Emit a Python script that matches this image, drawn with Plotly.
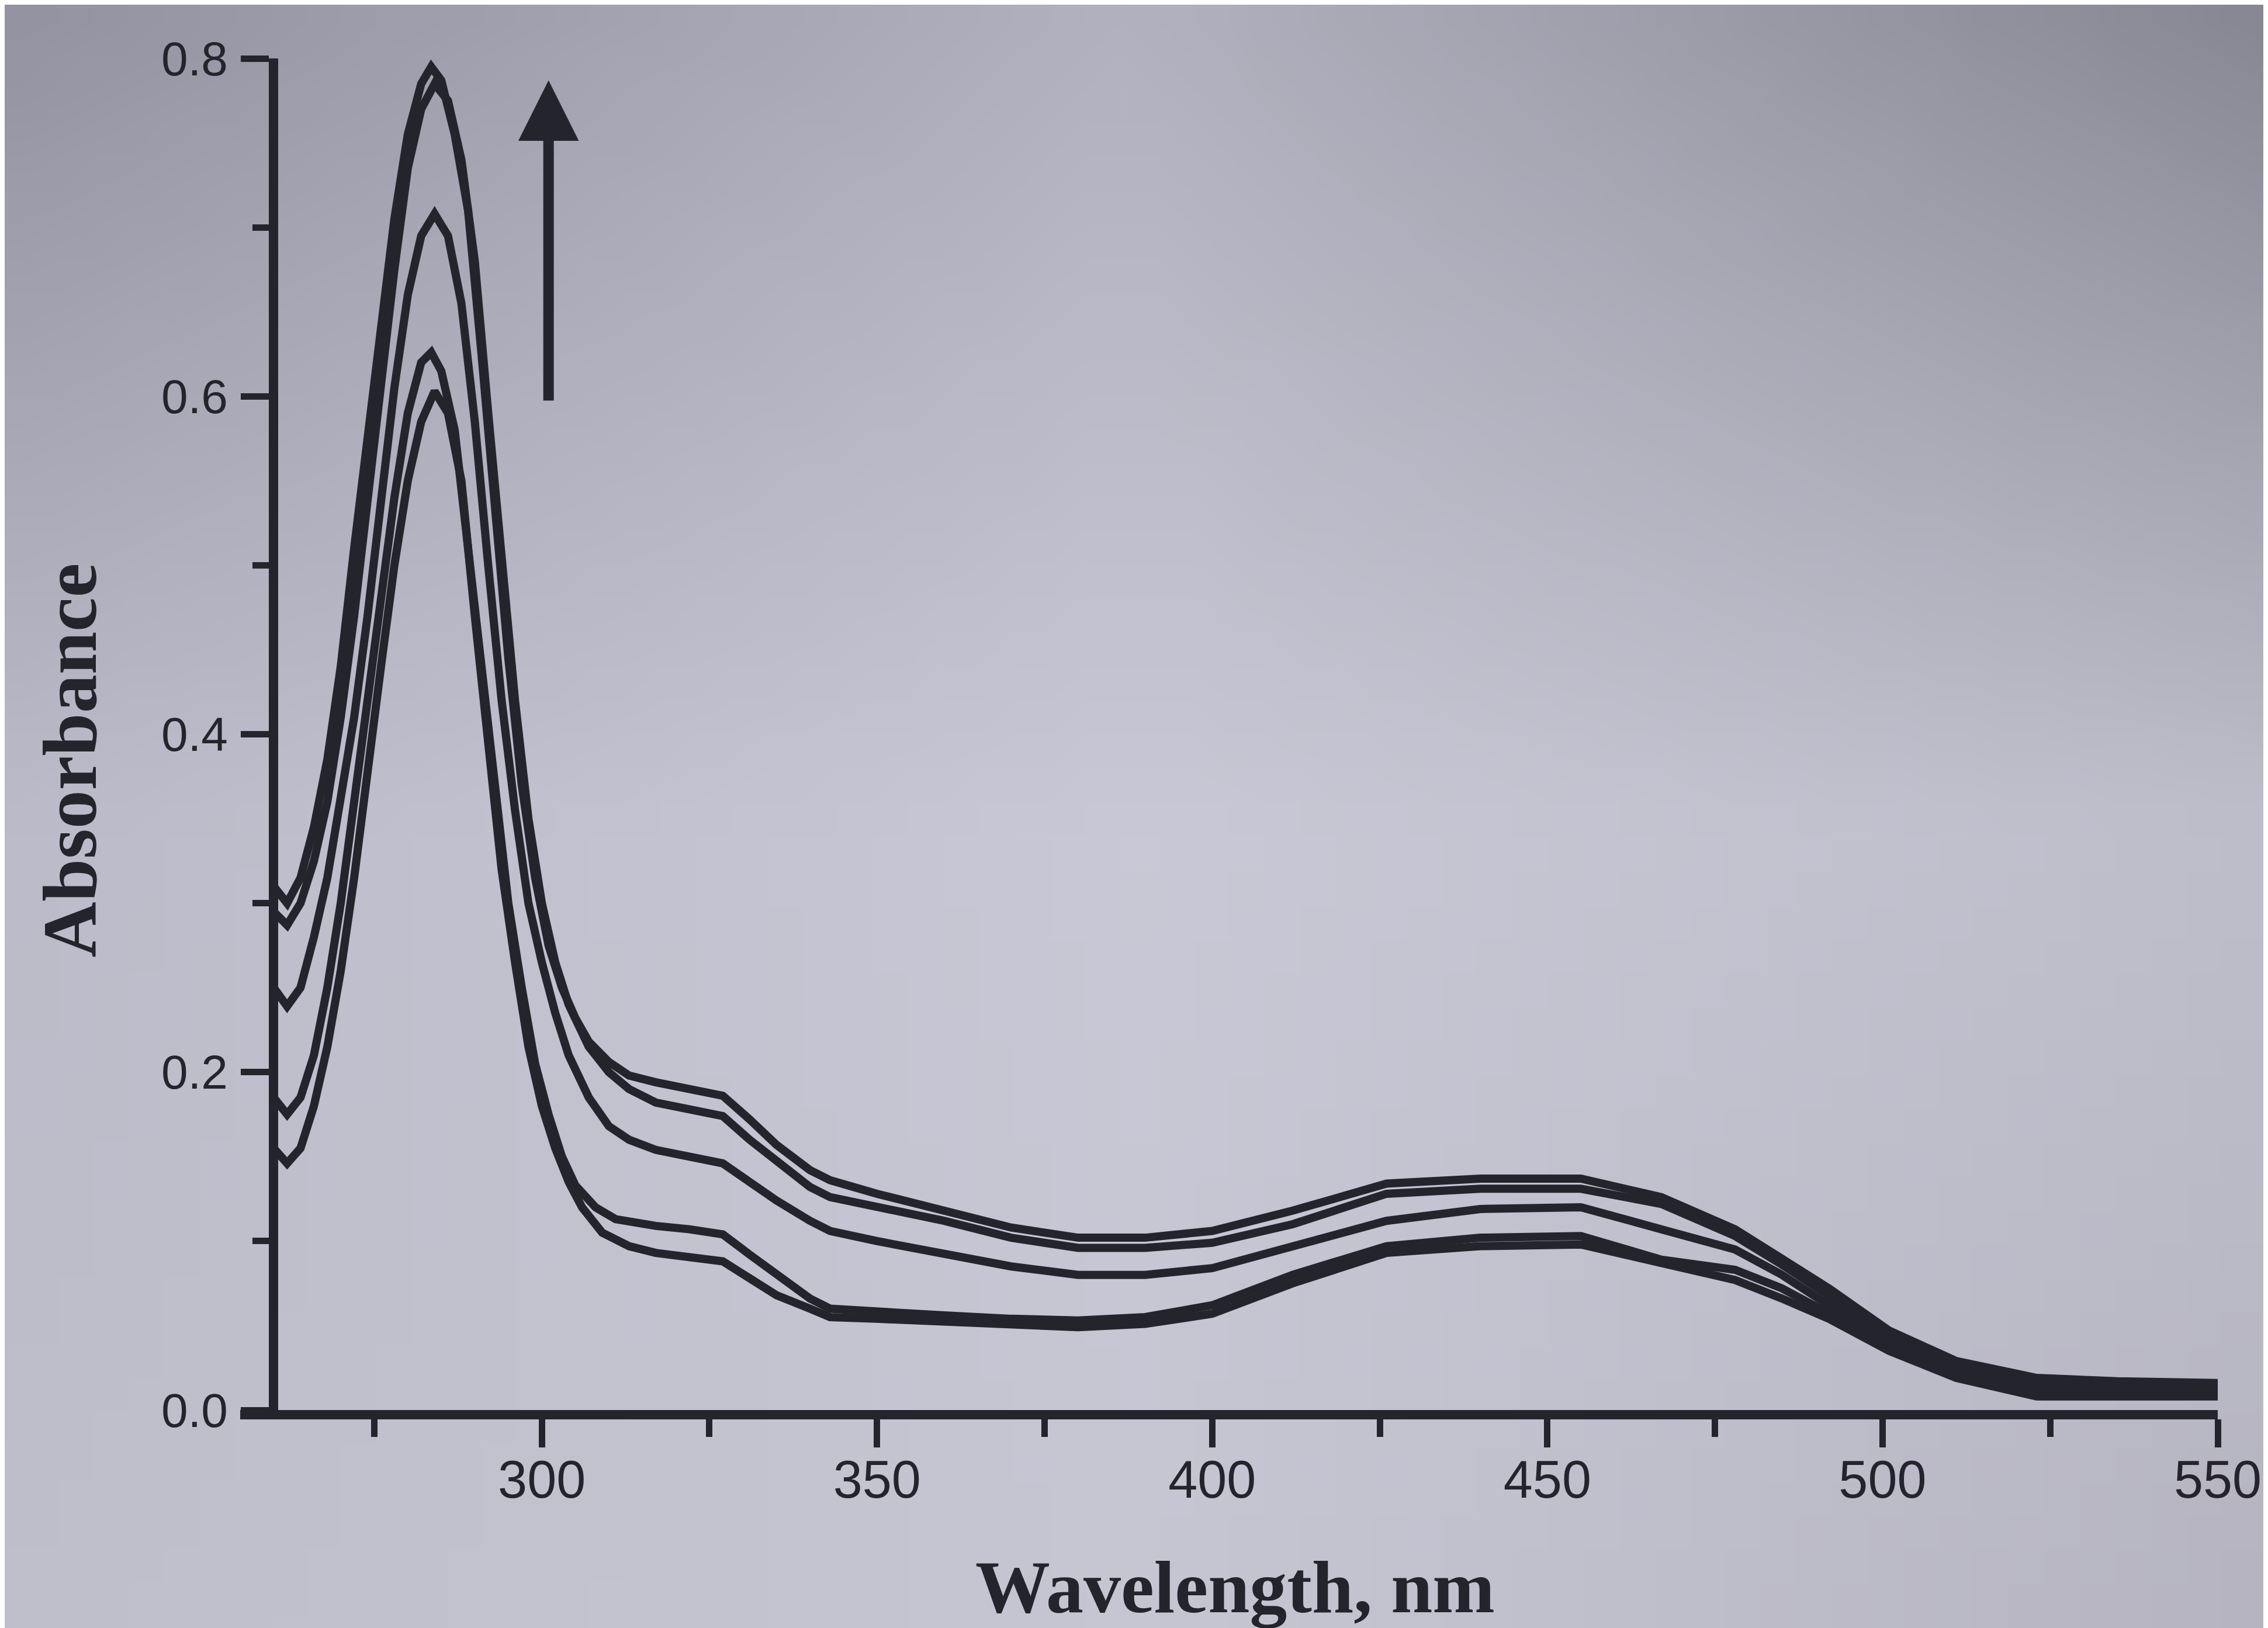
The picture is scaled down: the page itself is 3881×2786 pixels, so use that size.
import base64
import struct
import zlib

import plotly.graph_objects as go

# ---------------- data ----------------
wl_a = [260, 262, 264, 266, 268, 270, 272, 274, 276, 278, 280, 282, 283.5, 285, 287, 289, 291, 293, 295, 297, 299,
        301, 303, 305, 307, 310, 313, 317, 322, 327, 331, 335, 340, 343, 350, 360, 370, 380, 390, 400, 412, 426,
        440, 455, 467, 478, 485, 492, 501, 511, 523, 535, 550]
abs_a = [0.31, 0.30, 0.315, 0.345, 0.385, 0.44, 0.51, 0.575, 0.635, 0.705, 0.755, 0.785, 0.795, 0.787, 0.755, 0.71,
         0.625, 0.53, 0.445, 0.37, 0.315, 0.275, 0.25, 0.232, 0.218, 0.206, 0.198, 0.194, 0.19, 0.186, 0.172, 0.157,
         0.142, 0.136, 0.128, 0.118, 0.108, 0.102, 0.102, 0.106, 0.118, 0.134, 0.137, 0.137, 0.126, 0.107, 0.09,
         0.072, 0.047, 0.029, 0.019, 0.017, 0.016]

wl_b = [260, 262, 264, 266, 268, 270, 272, 274, 276, 278, 280, 282, 284, 286, 288, 290, 292, 294, 296, 298, 300,
        302, 304, 307, 310, 313, 317, 322, 327, 331, 335, 340, 343, 350, 360, 370, 380, 390, 400, 412, 426,
        440, 455, 467, 478, 485, 492, 501, 511, 523, 535, 550]
abs_b = [0.295, 0.287, 0.30, 0.325, 0.36, 0.41, 0.47, 0.54, 0.60, 0.675, 0.735, 0.77, 0.785, 0.775, 0.74, 0.68,
         0.59, 0.50, 0.42, 0.35, 0.30, 0.265, 0.24, 0.215, 0.20, 0.19, 0.182, 0.178, 0.174, 0.16, 0.147, 0.132,
         0.126, 0.12, 0.112, 0.102, 0.096, 0.096, 0.099, 0.11, 0.128, 0.131, 0.131, 0.122, 0.103, 0.086, 0.068,
         0.044, 0.026, 0.015, 0.014, 0.014]

wl_c = [260, 262, 264, 266, 268, 270, 272, 274, 276, 278, 280, 282, 284, 286, 288, 290, 292, 294, 296, 298, 300,
        302, 304, 307, 310, 313, 317, 322, 327, 331, 335, 340, 343, 350, 360, 370, 380, 390, 400, 412, 426,
        440, 455, 467, 478, 485, 492, 501, 511, 523, 535, 550]
abs_c = [0.25, 0.239, 0.25, 0.28, 0.315, 0.36, 0.41, 0.47, 0.54, 0.605, 0.66, 0.695, 0.708, 0.695, 0.655, 0.585,
         0.50, 0.42, 0.355, 0.30, 0.265, 0.235, 0.21, 0.185, 0.168, 0.16, 0.154, 0.15, 0.146, 0.135, 0.124, 0.112,
         0.106, 0.10, 0.093, 0.085, 0.08, 0.08, 0.084, 0.097, 0.112, 0.119, 0.12, 0.107, 0.095, 0.08, 0.062,
         0.041, 0.024, 0.012, 0.012, 0.012]

wl_d = [260, 262, 264, 266, 268, 270, 272, 274, 276, 278, 280, 282, 283.5, 285, 287, 289, 291, 293, 295, 297, 299,
        301, 303, 305, 308, 311, 317, 322, 327, 331, 335, 340, 343, 350, 360, 370, 380, 390, 400, 412, 426,
        440, 455, 467, 478, 485, 492, 501, 511, 523, 535, 550]
abs_d = [0.185, 0.175, 0.185, 0.21, 0.25, 0.30, 0.36, 0.42, 0.48, 0.54, 0.59, 0.62, 0.626, 0.615, 0.58, 0.51,
         0.43, 0.36, 0.30, 0.25, 0.205, 0.175, 0.15, 0.133, 0.12, 0.113, 0.109, 0.107, 0.104, 0.092, 0.08, 0.066,
         0.06, 0.058, 0.056, 0.054, 0.053, 0.055, 0.062, 0.08, 0.097, 0.102, 0.103, 0.089, 0.083, 0.072, 0.057,
         0.038, 0.021, 0.01, 0.01, 0.01]

wl_e = [260, 262, 264, 266, 268, 270, 272, 274, 276, 278, 280, 282, 284, 286, 288, 290, 292, 294, 296, 298, 300,
        302, 304, 306, 309, 313, 317, 322, 327, 331, 335, 340, 343, 350, 360, 370, 380, 390, 400, 412, 426,
        440, 455, 467, 478, 485, 492, 501, 511, 523, 535, 550]
abs_e = [0.155, 0.146, 0.155, 0.18, 0.215, 0.26, 0.315, 0.38, 0.44, 0.50, 0.55, 0.585, 0.603, 0.59, 0.55, 0.47,
         0.39, 0.32, 0.265, 0.215, 0.18, 0.155, 0.135, 0.12, 0.105, 0.097, 0.093, 0.091, 0.088, 0.078, 0.068, 0.06,
         0.055, 0.054, 0.052, 0.05, 0.049, 0.051, 0.057, 0.075, 0.093, 0.097, 0.098, 0.087, 0.077, 0.066, 0.054,
         0.035, 0.019, 0.008, 0.008, 0.008]

series = [(wl_a, abs_a), (wl_b, abs_b), (wl_c, abs_c), (wl_d, abs_d), (wl_e, abs_e)]

x_ticks = [300, 350, 400, 450, 500, 550]
x_tick_labels = ["300", "350", "400", "450", "500", "550"]
x_minor_ticks = [275, 325, 375, 425, 475, 525]
y_ticks = [0.0, 0.2, 0.4, 0.6, 0.8]
y_tick_labels = ["0.0", "0.2", "0.4", "0.6", "0.8"]
y_minor_ticks = [0.1, 0.3, 0.5, 0.7]

arrow_wl = 301
arrow_from = 0.597
arrow_to = 0.787

x_title = "Wavelength, nm"
y_title = "Absorbance"

# ---------------- styling ----------------
W, H = 3881, 2786
ML, MR, MT, MB = 403, 94, 92, 381
INK = "#24242c"
BG = "#c2c2cf"

# photographed-paper shading: 3x3 grid of corner/edge colours, smoothly interpolated
shade_grid = [
    [(0x93, 0x93, 0xa1), (0xb1, 0xb1, 0xbf), (0x88, 0x88, 0x94)],
    [(0xbb, 0xbb, 0xc9), (0xc8, 0xc8, 0xd6), (0xbe, 0xbe, 0xcb)],
    [(0xbf, 0xbf, 0xcb), (0xc6, 0xc6, 0xd3), (0xb6, 0xb4, 0xc1)],
]


def shade_png(grid, w=64, h=48):
    rows = []
    for j in range(h):
        v = j / (h - 1) * 2
        j0 = min(int(v), 1)
        fv = v - j0
        row = bytearray([0])
        for i in range(w):
            u = i / (w - 1) * 2
            i0 = min(int(u), 1)
            fu = u - i0
            px = []
            for c in range(3):
                a = grid[j0][i0][c] * (1 - fu) + grid[j0][i0 + 1][c] * fu
                b = grid[j0 + 1][i0][c] * (1 - fu) + grid[j0 + 1][i0 + 1][c] * fu
                px.append(int(round(a * (1 - fv) + b * fv)))
            row.extend(px)
        rows.append(bytes(row))
    raw = b"".join(rows)

    def chunk(tag, data):
        c = struct.pack(">I", len(data)) + tag + data
        return c + struct.pack(">I", zlib.crc32(tag + data) & 0xFFFFFFFF)

    png = b"\x89PNG\r\n\x1a\n"
    png += chunk(b"IHDR", struct.pack(">IIBBBBB", w, h, 8, 2, 0, 0, 0))
    png += chunk(b"IDAT", zlib.compress(raw, 9))
    png += chunk(b"IEND", b"")
    return "data:image/png;base64," + base64.b64encode(png).decode()


# ---------------- figure ----------------
fig = go.Figure()
for wl, ab in series:
    fig.add_trace(go.Scatter(x=wl, y=ab, mode="lines",
                             line=dict(color=INK, width=14), showlegend=False,
                             hoverinfo="skip"))

x0, x1 = 255, 550
y_axis_at = 260
pw, ph = W - ML - MR, H - MT - MB

fig.update_layout(
    width=W, height=H,
    paper_bgcolor=BG, plot_bgcolor="rgba(0,0,0,0)",
    margin=dict(l=ML, r=MR, t=MT, b=MB),
    showlegend=False,
    images=[dict(source=shade_png(shade_grid), xref="paper", yref="paper",
                 x=-ML / pw, y=1 + MT / ph, sizex=W / pw, sizey=H / ph,
                 xanchor="left", yanchor="top", sizing="stretch", layer="below")],
    xaxis=dict(
        range=[x0, x1], showgrid=False, zeroline=False,
        showline=True, linecolor=INK, linewidth=16,
        tickmode="array", tickvals=x_ticks, ticktext=x_tick_labels,
        ticks="outside", ticklen=48, tickwidth=11, tickcolor=INK,
        tickfont=dict(family="Liberation Sans, Arial, sans-serif", size=90, color=INK),
        minor=dict(tickmode="array", tickvals=x_minor_ticks,
                   ticks="outside", ticklen=30, tickwidth=11, tickcolor=INK),
        ticklabelstandoff=-22,
    ),
    yaxis=dict(
        range=[0, 0.8], showgrid=False, zeroline=False,
        anchor="free", position=(y_axis_at - x0) / (x1 - x0),
        showline=True, linecolor=INK, linewidth=16,
        tickmode="array", tickvals=y_ticks, ticktext=y_tick_labels,
        ticks="outside", ticklen=48, tickwidth=11, tickcolor=INK,
        tickfont=dict(family="Liberation Sans, Arial, sans-serif", size=82, color=INK),
        minor=dict(tickmode="array", tickvals=y_minor_ticks,
                   ticks="outside", ticklen=28, tickwidth=11, tickcolor=INK),
        ticklabelstandoff=6,
    ),
)

fig.add_annotation(x=arrow_wl, y=arrow_to, ax=arrow_wl, ay=arrow_from,
                   xref="x", yref="y", axref="x", ayref="y",
                   showarrow=True, arrowhead=2, arrowsize=1.15, arrowwidth=18,
                   arrowcolor=INK, text="")

fig.add_annotation(text=f"<b>{x_title}</b>", xref="paper", yref="paper",
                   x=0.503, y=-0.131, xanchor="center", yanchor="middle", showarrow=False,
                   font=dict(family="Liberation Serif, Times New Roman, serif", size=128, color=INK))
fig.add_annotation(text=f"<b>{y_title}</b>", xref="paper", yref="paper",
                   x=-0.0863, y=0.481, xanchor="center", yanchor="middle", textangle=-90,
                   showarrow=False,
                   font=dict(family="Liberation Serif, Times New Roman, serif", size=132, color=INK))

fig.write_html("out.html")
